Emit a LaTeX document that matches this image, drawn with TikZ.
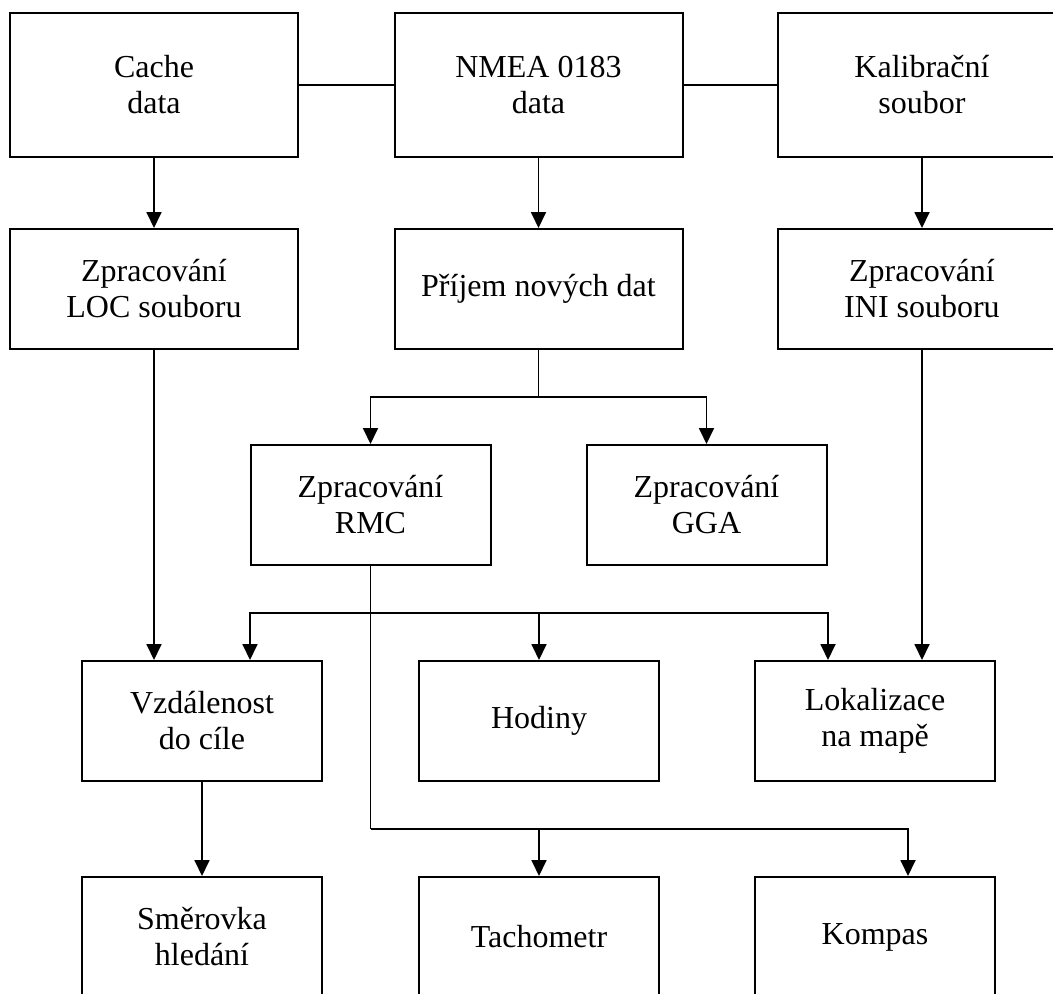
\documentclass[tikz,border=0pt]{standalone}
\usepackage{fontspec}
\setmainfont{Liberation Serif}
\usepackage{tikz}
\usetikzlibrary{calc,math}
\usetikzlibrary{positioning,arrows.meta}

\begin{document}
\begin{tikzpicture}[x=1pt, y=-1pt, font=\fontsize{32}{36}\selectfont,
  blok/.style={draw, line width=2pt, align=center, inner sep=0pt},
  siroky/.style={blok, minimum width=288pt},
  uzky/.style={blok, minimum width=240pt, minimum height=120pt},
  spoj/.style={line width=1.8pt},
  sipka/.style={spoj, -{Triangle[length=16pt,width=15pt]}}]

%page of the same size as the original picture
\useasboundingbox (0,0) rectangle (1053,994);

%columns and rows of the scheme
\tikzmath{
\colA=154; \colB=538.5; \colC=922;   %upper two rows
\colD=370.5; \colE=706.5;            %RMC and GGA
\colF=202; \colG=539; \colH=875;     %lower two rows
\rowA=85; \rowB=289; \rowC=505; \rowD=721; \rowE=937;
}

%input files
\node[siroky, minimum height=144pt] (cache)  at (\colA,\rowA) {Cache\\data};
\node[siroky, minimum height=144pt] (nmea)   at (\colB,\rowA) {NMEA 0183\\data};
\node[siroky, minimum height=144pt] (kalib)  at (\colC,\rowA) {Kalibrační\\soubor};

%processing
\node[siroky, minimum height=120pt] (loc)    at (\colA,\rowB) {Zpracování\\LOC souboru};
\node[siroky, minimum height=120pt] (prijem) at (\colB,\rowB) {Příjem nových dat};
\node[siroky, minimum height=120pt] (ini)    at (\colC,\rowB) {Zpracování\\INI souboru};
\node[uzky] (rmc) at (\colD,\rowC) {Zpracování\\RMC};
\node[uzky] (gga) at (\colE,\rowC) {Zpracování\\GGA};

%outputs
\node[uzky] (vzdal)  at (\colF,\rowD) {Vzdálenost\\do cíle};
\node[uzky] (hodiny) at (\colG,\rowD) {Hodiny};
\node[uzky] (lokal)  at (\colH,\rowD) {Lokalizace\\na mapě};
\node[uzky] (smer)   at (\colF,\rowE) {Směrovka\\hledání};
\node[uzky] (tacho)  at (\colG,\rowE) {Tachometr};
\node[uzky] (kompas) at (\colH,\rowE) {Kompas};

%branching points
\coordinate (rozv) at (\colB,397);
\coordinate (uzel1) at (\colD,613);
\coordinate (uzel2) at (\colD,829);

%top links
\draw[spoj] (cache) -- (nmea);
\draw[spoj] (nmea) -- (kalib);

%straight arrows
\draw[sipka] (cache) -- (loc);
\draw[sipka] (nmea) -- (prijem);
\draw[sipka] (kalib) -- (ini);
\draw[sipka] (loc) -- (loc |- vzdal.north);
\draw[sipka] (ini) -- (ini |- lokal.north);
\draw[sipka] (vzdal) -- (smer);

%new data split into RMC and GGA
\draw[spoj] (prijem) -- (rozv);
\draw[sipka] (rozv) -| (rmc);
\draw[sipka] (rozv) -| (gga);

%RMC feeds the outputs
\draw[spoj] (rmc) -- (uzel2);
\draw[sipka] (uzel1) -| ([xshift=48pt]vzdal.north);
\draw[sipka] (uzel1) -| (hodiny);
\draw[sipka] (uzel1) -| ([xshift=-47pt]lokal.north);
\draw[sipka] (uzel2) -| (tacho);
\draw[sipka] (uzel2) -| ([xshift=33pt]kompas.north);

\end{tikzpicture}
\end{document}
